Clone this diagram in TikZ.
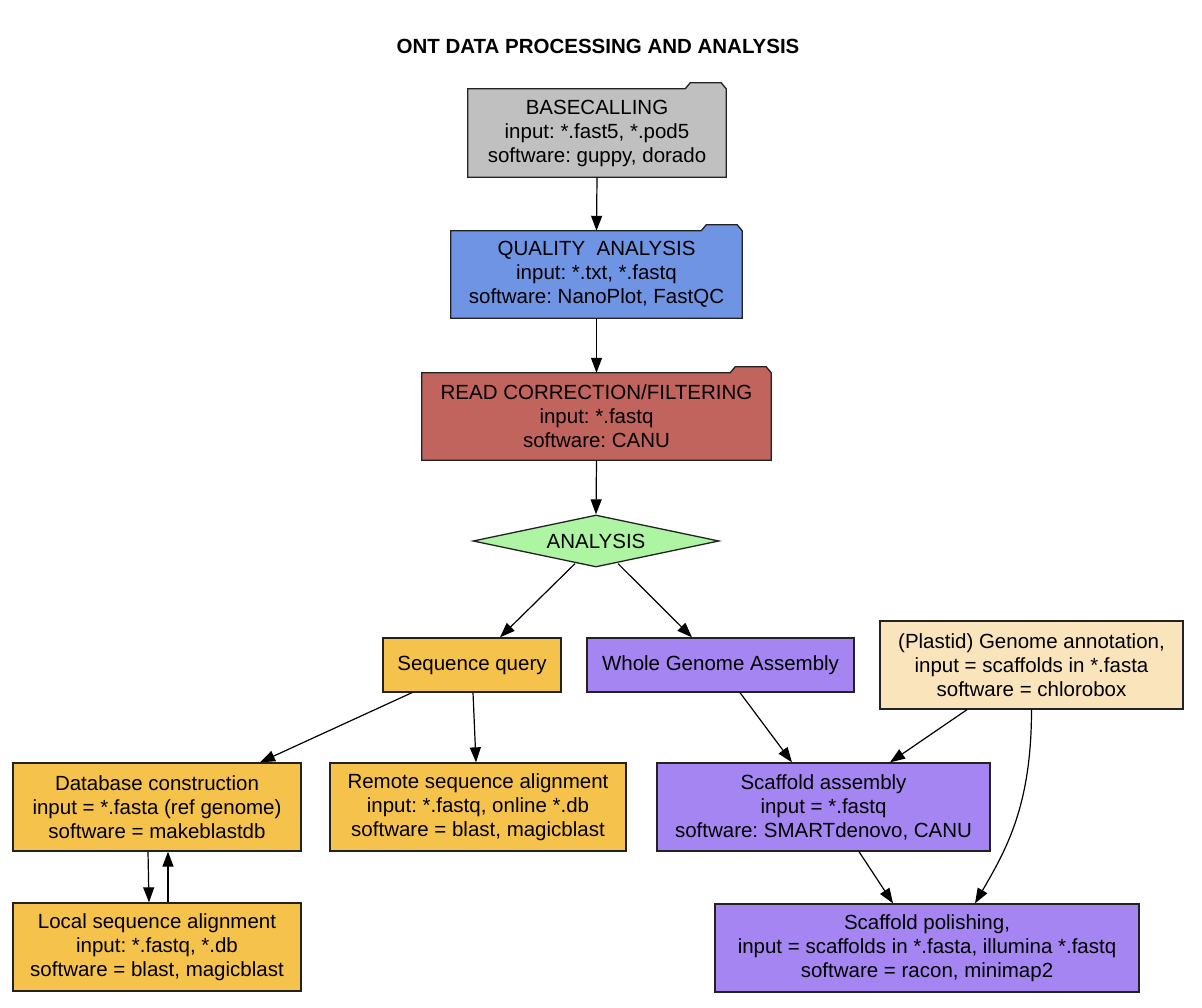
\documentclass[tikz,border=0pt]{standalone}
\usepackage{fontspec}
\setmainfont{Liberation Sans}
\frenchspacing
\usetikzlibrary{arrows.meta,shapes.geometric,backgrounds,calc}
\definecolor{cgray}{HTML}{C0C0C0}
\definecolor{cblue}{HTML}{6F94E3}
\definecolor{cred}{HTML}{C0645D}
\definecolor{cgreen}{HTML}{ADF5A3}
\definecolor{corange}{HTML}{F5C24C}
\definecolor{cpurple}{HTML}{A485F2}
\definecolor{cwheat}{HTML}{FAE4BC}
\definecolor{cline}{HTML}{222222}
\tikzset{
  txt/.style={font=\fontsize{20.5}{24}\selectfont},
  boxline/.style={draw=cline, line width=1.3pt},
  plainbox/.style={txt, rectangle, boxline, inner sep=0pt, align=center},
  folderbox/.style={txt, rectangle, draw=none, inner sep=0pt, align=center},
  conn/.style={draw=black, line width=1.2pt, -{Triangle[length=15pt,width=11pt]}},
}
\newcommand\folderoutline[2]{%
  \begin{pgfonlayer}{background}
  \draw[boxline, fill=#2, line join=miter] (#1.south west) -- (#1.north west)
    -- ([xshift=-41pt]#1.north east) -- ([xshift=-36pt,yshift=6pt]#1.north east)
    -- ([xshift=-5pt,yshift=6pt]#1.north east) -- (#1.north east)
    -- (#1.south east) -- cycle;
  \end{pgfonlayer}}
\begin{document}
\begin{tikzpicture}[x=1pt,y=1pt]
\useasboundingbox (0,0) rectangle (1202,-1008);
\begin{pgfonlayer}{background}
\fill[white] (0,0) rectangle (1202,-1008);
\end{pgfonlayer}

\node[txt, font=\fontsize{20.5}{24}\selectfont\bfseries] (title) at (598,-46) {ONT DATA PROCESSING AND ANALYSIS};

\node[folderbox, minimum width=258pt, minimum height=88pt] (bc) at (597,-133)
  {BASECALLING\\input: *.fast5, *.pod5\\software: guppy, dorado};
\folderoutline{bc}{cgray}
\node[folderbox, minimum width=291pt, minimum height=87pt] (qa) at (596.5,-274.5)
  {QUALITY\ \ ANALYSIS\\input: *.txt, *.fastq\\software: NanoPlot, FastQC};
\folderoutline{qa}{cblue}
\node[folderbox, minimum width=349pt, minimum height=87pt] (rc) at (596.5,-416.5)
  {READ CORRECTION/FILTERING\\input: *.fastq\\software: CANU};
\folderoutline{rc}{cred}

\node[txt, diamond, boxline, fill=cgreen, inner sep=0pt, aspect=4.73,
  minimum width=246pt, minimum height=52pt] (an) at (596,-541) {ANALYSIS};

\node[plainbox, fill=corange, minimum width=178pt, minimum height=54pt] (sq) at (472,-665) {Sequence query};
\node[plainbox, fill=cpurple, minimum width=267pt, minimum height=54pt] (wga) at (720.5,-665) {Whole Genome Assembly};
\node[plainbox, fill=cwheat, minimum width=303pt, minimum height=88pt] (pl) at (1031.5,-665)
  {(Plastid) Genome annotation,\\input = scaffolds in *.fasta\\software = chlorobox};

\node[plainbox, fill=corange, minimum width=288pt, minimum height=88pt] (db) at (157,-807)
  {Database construction\\input = *.fasta (ref genome)\\software = makeblastdb};
\node[plainbox, fill=corange, minimum width=296pt, minimum height=88pt] (rem) at (478,-807)
  {Remote sequence alignment\\input: *.fastq, online *.db\\software = blast, magicblast};
\node[plainbox, fill=cpurple, minimum width=333pt, minimum height=88pt] (sa) at (823.5,-807)
  {Scaffold assembly\\input = *.fastq\\software: SMARTdenovo, CANU};

\node[plainbox, fill=corange, minimum width=288pt, minimum height=88pt] (loc) at (157,-947)
  {Local sequence alignment\\input: *.fastq, *.db\\software = blast, magicblast};
\node[plainbox, fill=cpurple, minimum width=424pt, minimum height=88pt] (pol) at (927,-948)
  {Scaffold polishing,\\input = scaffolds in *.fasta, illumina *.fastq\\software = racon, minimap2};

\draw[conn] (bc.south) -- (qa.north);
\draw[conn] (qa.south) -- (rc.north);
\draw[conn] (rc.south) -- (an.north);
\draw[conn] ([shift={(-21pt,4pt)}]an.south) -- ([xshift=28pt]sq.north);
\draw[conn] ([shift={(22pt,4pt)}]an.south) -- ([xshift=-28.5pt]wga.north);
\draw[conn] ([xshift=-60pt]sq.south) -- ([xshift=103pt]db.north);
\draw[conn] ([xshift=1pt]sq.south) -- ([xshift=-2pt]rem.north);
\draw[conn] ([xshift=19.5pt]wga.south) -- ([xshift=-31.5pt]sa.north);
\draw[conn] ([xshift=-64.5pt]pl.south) -- ([xshift=66.5pt]sa.north);
\draw[conn] (pl.south) .. controls ([yshift=-95pt]pl.south) and ([shift={(80pt,55pt)}]pol.north) .. ([xshift=48pt]pol.north);
\draw[conn] ([xshift=35.5pt]sa.south) -- ([xshift=-34pt]pol.north);
\draw[conn] ([xshift=-9pt]db.south) -- ([xshift=-8pt]loc.north);
\draw[conn] ([xshift=11pt]loc.north) -- ([xshift=11pt]db.south);
\end{tikzpicture}
\end{document}
